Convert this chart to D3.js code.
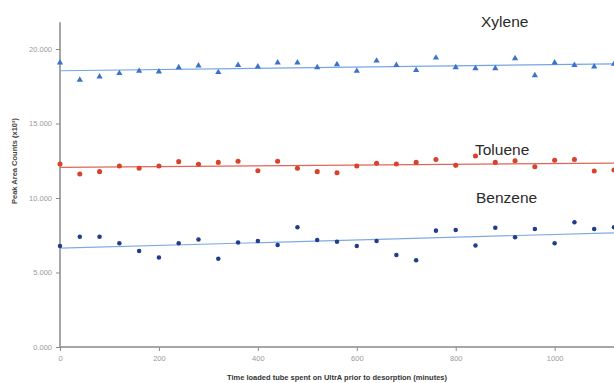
<!DOCTYPE html>
<html>
<head>
<meta charset="utf-8">
<script src="https://cdn.jsdelivr.net/npm/d3@7"></script>
<style>
  html, body { margin: 0; padding: 0; background: #fff; }
  svg { display: block; }
</style>
</head>
<body>
<svg id="chart" width="614" height="383"></svg>
<script>
// Sampling times (minutes) and peak area counts (x10^3) per compound
const minutes = [0, 40, 80, 120, 160, 200, 240, 280, 320, 360, 400, 440, 480, 520,
  560, 600, 640, 680, 720, 760, 800, 840, 880, 920, 960, 1000, 1040, 1080, 1120];

const xylene = [19080, 17920, 18140, 18370, 18520, 18480, 18770, 18880, 18440, 18920,
  18810, 19080, 19080, 18770, 18970, 18520, 19210, 18920, 18570, 19410,
  18770, 18700, 18700, 19370, 18230, 19080, 18920, 18810, 18990];

const toluene = [12280, 11610, 11770, 12150, 11990, 12150, 12440, 12260, 12390, 12460,
  11830, 12460, 11990, 11770, 11700, 12150, 12330, 12280, 12390, 12590,
  12190, 12820, 12390, 12500, 12100, 12530, 12590, 11810, 11880];

const benzene = [6780, 7400, 7400, 6960, 6440, 6000, 6960, 7220, 5930, 7020,
  7110, 6850, 8030, 7180, 7070, 6780, 7110, 6170, 5820, 7810,
  7850, 6820, 8010, 7360, 7920, 6960, 8370, 7920, 8030];

const yTicks = [0, 5000, 10000, 15000, 20000];
const yTickLabels = ["0.000", "5.000", "10.000", "15.000", "20.000"];
const xTicks = [0, 200, 400, 600, 800, 1000];
const xTickLabels = ["0", "200", "400", "600", "800", "1000"];
const seriesNames = ["Xylene", "Toluene", "Benzene"];

const svg = d3.select("#chart");
const x0 = 60, y0 = 347;

const x = d3.scaleLinear().domain([0, 1120]).range([x0, 614]);
const y = d3.scaleLinear().domain([0, 20000]).range([y0, 49]);

const grey = "#8a8a8a";
const tickText = "#9a9a9a";
const font = "Liberation Sans, Arial, sans-serif";

// Y axis
const yAxis = svg.append("g").attr("transform", `translate(${x0},0)`)
  .call(d3.axisLeft(y).tickValues(yTicks)
    .tickFormat((d, i) => yTickLabels[i]).tickSize(4).tickPadding(4));
yAxis.select(".domain").remove();
yAxis.append("line").attr("x1", 0).attr("x2", 0)
  .attr("y1", y(21800)).attr("y2", y0).attr("stroke", grey).attr("stroke-width", 1.5);
yAxis.selectAll(".tick line").attr("stroke", grey);
yAxis.selectAll(".tick text").attr("fill", tickText)
  .style("font-family", font).style("font-size", "7.5px");

// X axis
const xAxis = svg.append("g").attr("transform", `translate(0,${y0})`)
  .call(d3.axisBottom(x).tickValues(xTicks)
    .tickFormat((d, i) => xTickLabels[i]).tickSize(4).tickPadding(5));
xAxis.select(".domain").remove();
xAxis.append("line").attr("x1", x0).attr("x2", 614).attr("y1", 0).attr("y2", 0)
  .attr("stroke", grey).attr("stroke-width", 1.5);
xAxis.selectAll(".tick line").attr("stroke", grey);
xAxis.selectAll(".tick text").attr("fill", tickText)
  .style("font-family", font).style("font-size", "7.5px");

// Axis titles
svg.append("text")
  .attr("transform", `translate(17,161) rotate(-90)`)
  .attr("text-anchor", "middle")
  .style("font-family", font)
  .style("font-size", "7.5px").style("font-weight", "bold").attr("fill", "#444")
  .text("Peak Area Counts (x10³)");

svg.append("text")
  .attr("x", 337).attr("y", 380)
  .attr("text-anchor", "middle")
  .style("font-family", font)
  .style("font-size", "7.5px").style("font-weight", "bold").attr("fill", "#333")
  .text("Time loaded tube spent on UltrA prior to desorption (minutes)");

// Least-squares trendline
function fit(vals) {
  const mx = d3.mean(minutes), my = d3.mean(vals);
  let sxy = 0, sxx = 0;
  minutes.forEach((t, i) => { sxy += (t - mx) * (vals[i] - my); sxx += (t - mx) * (t - mx); });
  const b = sxy / sxx;
  return [my - b * mx, b];
}

const series = [
  { name: seriesNames[0], vals: xylene, color: "#3d72cc", line: "#74a6e6", shape: d3.symbolTriangle, size: 17 },
  { name: seriesNames[1], vals: toluene, color: "#d8412a", line: "#e2655a", shape: d3.symbolCircle, size: 20 },
  { name: seriesNames[2], vals: benzene, color: "#1f3d8c", line: "#7eaae2", shape: d3.symbolCircle, size: 16 }
];

const plot = svg.append("g");
series.forEach(s => {
  const [a, b] = fit(s.vals);
  plot.append("line")
    .attr("x1", x(0)).attr("y1", y(a))
    .attr("x2", x(1120)).attr("y2", y(a + b * 1120))
    .attr("stroke", s.line).attr("stroke-width", 1.2);
  plot.selectAll(null).data(s.vals).enter().append("path")
    .attr("transform", (d, i) => `translate(${x(minutes[i])},${y(d)})`)
    .attr("d", d3.symbol().type(s.shape).size(s.size))
    .attr("fill", s.color);
});

// Compound labels
const labelPos = [[481, 27], [475, 155], [476, 203]];
seriesNames.forEach((n, i) => {
  svg.append("text")
    .attr("x", labelPos[i][0]).attr("y", labelPos[i][1])
    .style("font-family", font)
    .style("font-size", "15.5px").attr("fill", "#2a2a2a")
    .text(n);
});
</script>
</body>
</html>
